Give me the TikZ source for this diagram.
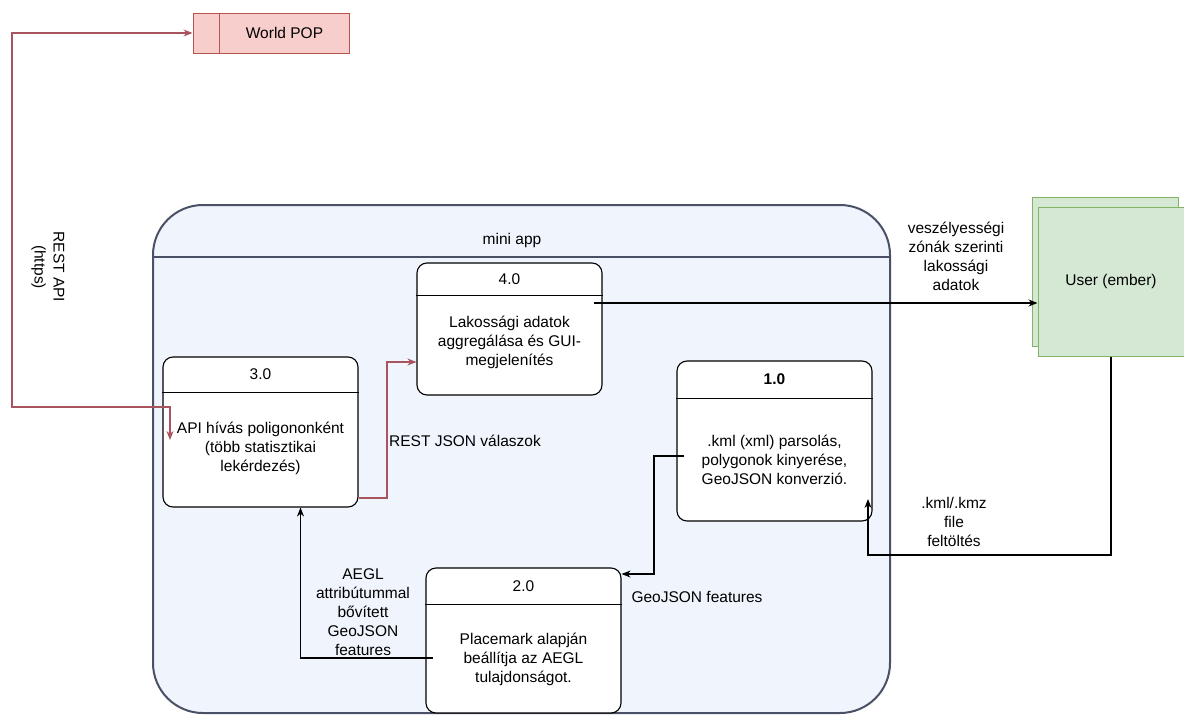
\documentclass[tikz,border=0pt]{standalone}
\usepackage{fontspec}
\setmainfont{Liberation Sans}
\usetikzlibrary{arrows.meta,positioning,calc}
\definecolor{appfill}{HTML}{F0F4FC}
\definecolor{appline}{HTML}{4A5066}
\definecolor{popfill}{HTML}{F8CECC}
\definecolor{popline}{HTML}{B85450}
\definecolor{userfill}{HTML}{D5E8D4}
\definecolor{userline}{HTML}{82B366}
\definecolor{restred}{HTML}{A8535E}

\begin{document}
\begin{tikzpicture}[x=1pt,y=-1pt,font=\fontsize{15.5}{19}\selectfont,
   proc/.style={draw=black,fill=white,rounded corners=10pt,line width=1.1pt},
   txt/.style={align=center,inner sep=0pt},
   flow/.style={draw=black,line width=1.1pt,-{Stealth[length=9pt,width=7pt]}},
   restflow/.style={draw=restred,line width=1.1pt},
   entity/.style={draw=userline,fill=userfill,line width=1pt,
                  minimum width=146pt,minimum height=149pt}]
  \useasboundingbox (0,0) rectangle (1184,715);

  % container
  \node[draw=appline,fill=appfill,line width=2pt,rounded corners=50pt,
        minimum width=737pt,minimum height=508pt] (app) at (521.5,459) {};
  \draw[appline,line width=2pt] ($(app.north west)+(0,53)$) -- ($(app.north east)+(0,53)$);
  \node[txt] (apph) at (512,240) {mini app};

  % external entities
  \node[draw=popline,fill=popfill,line width=1pt,minimum width=156pt,
        minimum height=40pt] (wpop) at (271,33) {\hspace*{27pt}World POP};
  \draw[popline,line width=1pt] ($(wpop.north west)+(27,0)$) -- ($(wpop.south west)+(27,0)$);

  \node[entity] (userb) at (1105,272) {};
  \node[entity] (user) at (1111,281.5) {User (ember)};

  % processes
  \node[proc,minimum width=195pt,minimum height=160pt] (p1) at (774.5,441) {};
  \draw[line width=1.1pt] ($(p1.north west)+(0,38)$) -- ($(p1.north east)+(0,38)$);
  \node[txt] (p1h) at ($(p1.north)+(0,19)$) {\textbf{1.0}};
  \node[txt] (p1t) at ($(p1.north)+(0,99)$) {.kml (xml) parsolás,\\polygonok kinyerése,\\GeoJSON konverzió.};

  \node[proc,minimum width=195pt,minimum height=145pt] (p2) at (523.5,640.5) {};
  \draw[line width=1.1pt] ($(p2.north west)+(0,37)$) -- ($(p2.north east)+(0,37)$);
  \node[txt] (p2h) at ($(p2.north)+(0,19)$) {2.0};
  \node[txt] (p2t) at ($(p2.north)+(0,92)$) {Placemark alapján\\beállítja az AEGL\\tulajdonságot.};

  \node[proc,minimum width=195pt,minimum height=150pt] (p3) at (260.5,432) {};
  \draw[line width=1.1pt] ($(p3.north west)+(0,36)$) -- ($(p3.north east)+(0,36)$);
  \node[txt] (p3h) at ($(p3.north)+(0,18)$) {3.0};
  \node[txt] (p3t) at ($(p3.north)+(0,92)$) {API hívás poligononként\\(több statisztikai\\lekérdezés)};

  \node[proc,minimum width=185pt,minimum height=132pt] (p4) at (509.5,329) {};
  \draw[line width=1.1pt] ($(p4.north west)+(0,33)$) -- ($(p4.north east)+(0,33)$);
  \node[txt] (p4h) at ($(p4.north)+(0,17)$) {4.0};
  \node[txt] (p4t) at ($(p4.north)+(0,80)$) {Lakossági adatok\\aggregálása és GUI-\\megjelenítés};

  % flows
  \coordinate (apiin) at (170,440);
  \draw[restflow,{Stealth[length=9pt,width=7pt]}-{Stealth[length=9pt,width=7pt]}]
    (wpop.west) -| (12,407) -| (apiin);
  \node[txt,rotate=-90] (apil) at (48,267) {REST API\\(https)};

  \draw[restflow,-{Stealth[length=9pt,width=7pt]}]
    (p3.east |- 0,498) -| (387,362) -- (p4.west |- 0,362);
  \node[txt] (jsonl) at (465,441) {REST JSON válaszok};

  \draw[flow] (594,303) -- (user.west |- 0,303);
  \node[txt] (resl) at (956,256) {veszélyességi\\zónák szerinti\\lakossági\\adatok};

  \draw[flow] (user.south) |- (868,555) -- (868,499);
  \node[txt] (kmll) at (954,522) {.kml/.kmz\\file\\feltöltés};

  \draw[flow] (684,456) -- (654,456) |- (p2.east |- 0,574);
  \node[txt] (geol) at (697,597) {GeoJSON features};

  \draw[flow] (433,658) -| ($(p3.south)+(40,0)$);
  \node[txt] (aegll) at (363,612) {AEGL\\attribútummal\\bővített\\GeoJSON\\features};
\end{tikzpicture}
\end{document}
